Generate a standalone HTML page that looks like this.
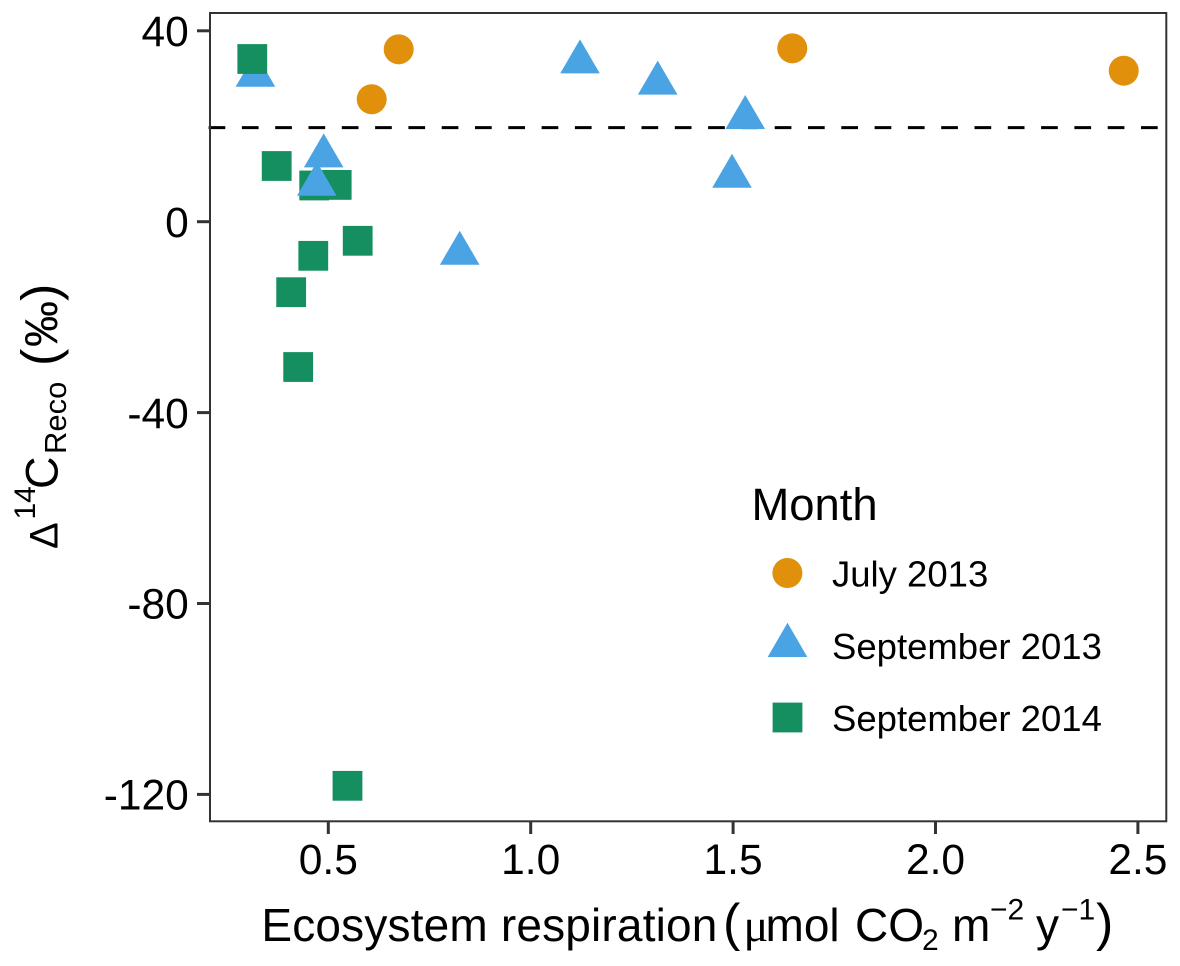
<!DOCTYPE html>
<html lang="en">
<head>
<meta charset="utf-8">
<title>Radiocarbon of ecosystem respiration</title>
<style>
html,body{margin:0;padding:0;background:#fff;width:1180px;height:966px;overflow:hidden}
svg{display:block}
text{font-family:"Liberation Sans",sans-serif;fill:#000}
</style>
</head>
<body>
<svg id="chart" xmlns="http://www.w3.org/2000/svg" width="1180" height="966" viewBox="0 0 1180 966">
  <rect x="0" y="0" width="1180" height="966" fill="#fff"/>
  <g id="marks"></g>
  <rect x="210" y="13" width="956.3" height="808.3" fill="none" stroke="#333" stroke-width="2"/>
  <g id="xticks"></g>
  <g id="yticks"></g>

  <g font-size="46">
    <text x="261.4" y="941" textLength="456" lengthAdjust="spacing">Ecosystem respiration</text>
    <text x="723" y="940" font-size="52">(</text>
    <text transform="translate(743.5,941) scale(1.03,1)" font-size="45" style="font-family:'Liberation Serif',serif">μ</text>
    <text x="765.5" y="941">mol</text>
    <text x="855" y="941">CO</text>
    <text x="922" y="950" font-size="30">2</text>
    <text x="952" y="941">m</text>
    <text x="990" y="919.5" font-size="30">−2</text>
    <text x="1036" y="941">y</text>
    <text x="1061" y="919.5" font-size="30">−1</text>
    <text x="1096" y="940" font-size="52">)</text>
  </g>

  <g font-size="45">
    <text transform="translate(57.3,549) rotate(-90)" font-size="40">Δ</text>
    <text transform="translate(35,519.5) rotate(-90)" font-size="30">14</text>
    <text transform="translate(57.3,489) rotate(-90)" font-size="45">C</text>
    <text transform="translate(66,454) rotate(-90)" font-size="31">Reco</text>
    <text transform="translate(57.3,366) rotate(-90)" font-size="52">(</text>
    <text transform="translate(57.3,347) rotate(-90)" font-size="46">‰</text>
    <text transform="translate(57.3,301) rotate(-90)" font-size="52">)</text>
  </g>

  <g>
    <text x="751.5" y="520" font-size="45.4">Month</text>
    <g>
      <circle cx="787.4" cy="573" r="15" fill="#E0900A"/>
      <text x="832" y="586.7" font-size="36.5">July 2013</text>
    </g>
    <g>
      <polygon points="787.5,622.7 807.3,657 767.7,657" fill="#4AA4E3"/>
      <text x="832" y="659" font-size="36.5">September 2013</text>
    </g>
    <g>
      <rect x="772.6" y="702.6" width="29.8" height="29.8" fill="#158F60"/>
      <text x="832" y="731" font-size="36.5">September 2014</text>
    </g>
  </g>
</svg>
<script>
var xTickValues = [0.5, 1.0, 1.5, 2.0, 2.5];
var xTickLabels = ["0.5", "1.0", "1.5", "2.0", "2.5"];
var yTickValues = [40, 0, -40, -80, -120];
var yTickLabels = ["40", "0", "-40", "-80", "-120"];
var referenceLevel = 19.7;

var july2013X = [0.6072, 0.6739, 1.6462, 2.465];
var july2013Y = [25.65, 36.12, 36.33, 31.64];

var sep2013X = [0.320, 1.1218, 1.3137, 1.530, 1.4973, 0.8246, 0.4886, 0.4716];
var sep2013Y = [30.65, 33.46, 29.0, 21.8, 9.5, -6.64, 13.77, 7.82];

var sep2014X = [0.3122, 0.3725, 0.4652, 0.5207, 0.5726, 0.4629, 0.4083, 0.4256, 0.5474];
var sep2014Y = [34.09, 11.67, 7.59, 7.71, -4.0, -7.15, -14.77, -30.45, -118.2];

var NS = "http://www.w3.org/2000/svg";
function xPos(v) { return 328.3 + 404.8 * (v - 0.5); }
function yPos(v) { return 221.7 - 4.7725 * v; }

function make(tag, attrs, parent) {
  var el = document.createElementNS(NS, tag);
  for (var k in attrs) { el.setAttribute(k, attrs[k]); }
  parent.appendChild(el);
  return el;
}

var marks = document.getElementById("marks");
var xticks = document.getElementById("xticks");
var yticks = document.getElementById("yticks");

function drawCircle(i) {
  var c = make("circle", {cx: xPos(july2013X[i]), cy: yPos(july2013Y[i]), r: 15, fill: "#E0900A"}, marks);
  
  
}
function drawTriangle(i) {
  var cx = xPos(sep2013X[i]), cy = yPos(sep2013Y[i]);
  var pts = cx + "," + (cy - 22.67) + " " + (cx + 19.8) + "," + (cy + 11.33) + " " + (cx - 19.8) + "," + (cy + 11.33);
  var t = make("polygon", {points: pts, fill: "#4AA4E3"}, marks);
  
  
}
function drawSquare(i) {
  var s = make("rect", {x: xPos(sep2014X[i]) - 14.9, y: yPos(sep2014Y[i]) - 14.9, width: 29.8, height: 29.8, fill: "#158F60"}, marks);
  
  
}

var refLine = make("line", {x1: 208.6, x2: 1166, y1: yPos(referenceLevel), y2: yPos(referenceLevel), stroke: "#000", "stroke-width": 3, "stroke-dasharray": "16.7 16.6"}, marks);



var i;
for (i = 0; i < july2013X.length; i++) { drawCircle(i); }
for (i = 1; i < sep2014X.length; i++) { drawSquare(i); }
for (i = 0; i < sep2013X.length; i++) { drawTriangle(i); }
drawSquare(0);

xTickValues.forEach(function (v, idx) {
  var px = xPos(v);
  var tick = make("line", {x1: px, x2: px, y1: 822, y2: 834, stroke: "#333", "stroke-width": 3}, xticks);
  
  
  var lab = make("text", {x: px, y: 874, "text-anchor": "middle", "font-size": 42.5}, xticks);
  lab.textContent = xTickLabels[idx];
  
  
});

yTickValues.forEach(function (v, idx) {
  var py = yPos(v);
  var tick = make("line", {x1: 197, x2: 209, y1: py, y2: py, stroke: "#333", "stroke-width": 3}, yticks);
  
  
  var lab = make("text", {x: 188.8, y: py + 15.2, "text-anchor": "end", "font-size": 42.5}, yticks);
  lab.textContent = yTickLabels[idx];
  
  
});
</script>
</body>
</html>
